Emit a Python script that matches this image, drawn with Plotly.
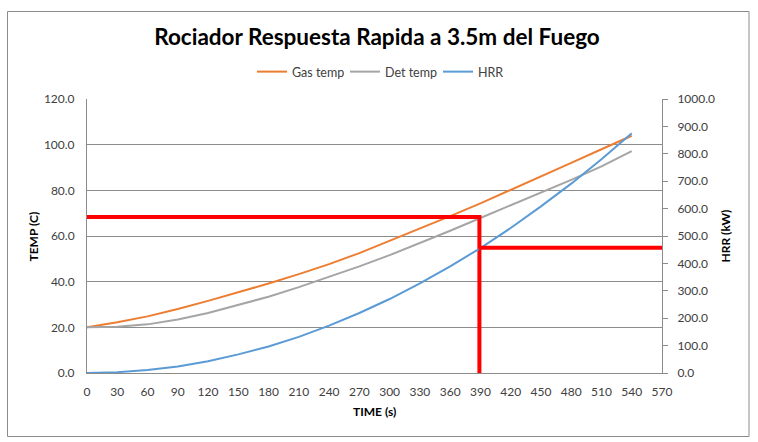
import plotly.graph_objects as go

# ---- data ----
time_s = [0, 30, 60, 90, 120, 150, 180, 210, 240, 270, 300, 330, 360, 390, 420, 450, 480, 510, 540]
gas_temp = [20.0, 22.2, 24.8, 28.0, 31.6, 35.3, 39.2, 43.3, 47.7, 52.5, 57.8, 63.2, 68.7, 74.3, 80.1, 86.0, 92.0, 98.0, 103.9]
det_temp = [20.0, 20.3, 21.3, 23.4, 26.3, 29.7, 33.4, 37.6, 42.0, 46.7, 51.6, 56.8, 62.3, 67.9, 73.4, 79.0, 84.6, 90.5, 97.2]
hrr_kw = [0, 3, 11, 24, 43, 68, 97, 132, 173, 219, 270, 327, 389, 456, 529, 608, 691, 780, 875]

activation_temp = 68.3   # C
activation_time = 389    # s
activation_hrr = 457     # kW
x_end = 572

series_names = ["Gas temp", "Det temp", "HRR"]
colors = ["#ED7D31", "#A5A5A5", "#5B9BD5"]

FONT = "Lato"
GRID = "#8C8C8C"
TXT = "#404040"

fig = go.Figure()
fig.add_trace(go.Scatter(x=time_s, y=gas_temp, name=series_names[0], mode="lines",
                         line=dict(color=colors[0], width=2)))
fig.add_trace(go.Scatter(x=time_s, y=det_temp, name=series_names[1], mode="lines",
                         line=dict(color=colors[1], width=2)))
fig.add_trace(go.Scatter(x=time_s, y=hrr_kw, name=series_names[2], mode="lines", yaxis="y2",
                         line=dict(color=colors[2], width=2)))

# red marker lines (activation)
red = dict(color="#FF0000", width=4)
fig.add_trace(go.Scatter(x=[0, activation_time, activation_time], y=[activation_temp, activation_temp, 0],
                         mode="lines", line=red, showlegend=False, hoverinfo="skip"))
fig.add_trace(go.Scatter(x=[activation_time - 1, x_end], y=[activation_hrr, activation_hrr], yaxis="y2",
                         mode="lines", line=red, showlegend=False, hoverinfo="skip"))

L, R, T, B = 87, 758 - 662, 99, 442 - 373
pw, ph = 758 - L - R, 442 - T - B

def px_x(p):
    return (p - L) / pw

def px_y(p):
    return (442 - B - p) / ph

fig.update_layout(
    width=758, height=442,
    margin=dict(l=L, r=R, t=T, b=B),
    paper_bgcolor="white", plot_bgcolor="white",
    font=dict(family=FONT, size=12, color=TXT),
    title=dict(text="<b>Rociador Respuesta Rapida a 3.5m del Fuego</b>",
               x=377 / 758, xanchor="center", y=1 - 37 / 442, yanchor="middle",
               font=dict(family=FONT, size=22.5, color="#000000")),
    legend=dict(orientation="h", x=px_x(252), xanchor="left", y=px_y(72), yanchor="middle",
                font=dict(family=FONT, size=12.5, color=TXT), bgcolor="rgba(0,0,0,0)",
                entrywidth=48, itemwidth=30),
    xaxis=dict(range=[0, 570], dtick=30, tick0=0, showgrid=False, showline=True, linecolor=GRID,
               linewidth=1, ticks="", zeroline=False, ticklabelstandoff=8,
               tickfont=dict(size=12, color=TXT)),
    yaxis=dict(range=[0, 120], dtick=20, tickformat=".1f", showgrid=True, gridcolor=GRID, gridwidth=1,
               showline=True, linecolor=GRID, ticks="", zeroline=False, ticklabelstandoff=9,
               tickfont=dict(size=12, color=TXT)),
    yaxis2=dict(range=[0, 1000], dtick=100, tickformat=".1f", overlaying="y", side="right",
                showgrid=False, showline=True, linecolor=GRID, ticks="outside", ticklen=5, tickcolor=GRID,
                zeroline=False, ticklabelstandoff=7, tickfont=dict(size=12, color=TXT)),
    showlegend=True,
)

# axis titles
ann_font = dict(family=FONT, size=12, color="#000000")
fig.add_annotation(text="<b>TEMP (C)</b>", xref="paper", yref="paper", x=px_x(33), y=px_y(236.5),
                   xanchor="center", yanchor="middle", textangle=-90, showarrow=False, font=ann_font)
fig.add_annotation(text="<b>HRR (kW)</b>", xref="paper", yref="paper", x=px_x(725), y=px_y(236.5),
                   xanchor="center", yanchor="middle", textangle=-90, showarrow=False, font=ann_font)
fig.add_annotation(text="<b>TIME (s)</b>", xref="paper", yref="paper", x=px_x(374), y=px_y(411),
                   xanchor="center", yanchor="middle", showarrow=False, font=ann_font)

# outer chart border
fig.add_shape(type="rect", xref="paper", yref="paper", x0=px_x(7.5), x1=px_x(749), y0=px_y(436.5), y1=px_y(11.5),
              line=dict(color="#8C8C8C", width=1), layer="below")

fig.write_html("out.html", config={"displayModeBar": False},
               post_script="document.body.style.margin='0';")
